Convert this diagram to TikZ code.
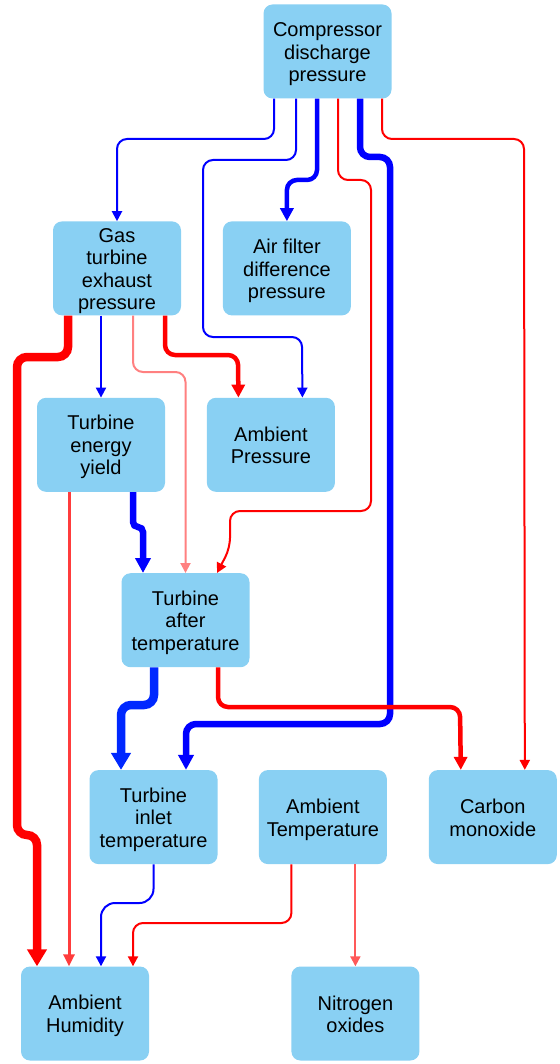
\documentclass[tikz,border=0pt]{standalone}
\usepackage{fontspec}
\setmainfont{Liberation Sans}
\usetikzlibrary{positioning, arrows.meta}
\definecolor{boxblue}{RGB}{137,208,243}
\definecolor{cblue}{RGB}{0,0,255}
\definecolor{cdeep}{RGB}{0,40,255}
\definecolor{cred}{RGB}{255,0,0}
\definecolor{clight}{RGB}{255,128,128}
\definecolor{cmid}{RGB}{255,60,60}
\tikzset{
  var/.style={rectangle, rounded corners=9pt, fill=boxblue, minimum width=128pt,
    minimum height=94pt, inner sep=0pt, align=center,
    font=\fontsize{20}{22.5}\selectfont},
  link/.style={rounded corners=10pt},
  w1/.style={link, line width=2pt, -{Triangle[length=10pt,width=10pt]}},
  w2/.style={link, line width=3pt, -{Triangle[length=12pt,width=11pt]}},
  w3/.style={link, line width=4.5pt, -{Triangle[length=13pt,width=13pt]}},
  w4/.style={link, line width=6.5pt, -{Triangle[length=15pt,width=15pt]}},
  w5/.style={link, line width=8.5pt, -{Triangle[length=17pt,width=19pt]}}
}
\newcommand{\topstrut}{\rule{0pt}{19.5pt}}
\newcommand{\botstrut}{\rule[-4pt]{0pt}{4pt}}

\begin{document}
\begin{tikzpicture}[x=1pt, y=-1pt]
    \useasboundingbox (0,0) rectangle (559,1064);

    \node[var] (cdp) at (327.5,51.5) {\topstrut Compressor\\discharge\\pressure\botstrut};
    \node[var, below = 122.5pt of cdp, xshift=-210.5pt] (gtep) {\topstrut Gas\\turbine\\exhaust\\pressure\botstrut};
    \node[var, right = 41.5pt of gtep] (afdp) {\topstrut Air filter\\difference\\pressure\botstrut};
    \node[var, below = 82pt of gtep, xshift=-16pt] (tey) {\topstrut Turbine\\energy\\yield\botstrut};
    \node[var, right = 41.5pt of tey] (ap) {\topstrut Ambient\\Pressure\botstrut};
    \node[var, below = 81pt of tey, xshift=84.5pt] (tat) {\topstrut Turbine\\after\\temperature\botstrut};
    \node[var, below = 102.5pt of tat, xshift=-32pt] (tit) {\topstrut Turbine\\inlet\\temperature\botstrut};
    \node[var, right = 41pt of tit] (at) {\topstrut Ambient\\Temperature\botstrut};
    \node[var, right = 41.5pt of at] (co) {\topstrut Carbon\\monoxide\botstrut};
    \node[var, below = 102pt of tit, xshift=-68.5pt] (ah) {\topstrut Ambient\\Humidity\botstrut};
    \node[var, below = 102pt of at, xshift=32.5pt] (nox) {\topstrut Nitrogen\\oxides\botstrut};

    % from compressor discharge pressure
    \draw[w1, cblue] ([xshift=-53.5pt]cdp.south) |- (gtep.north |- 0,139) -- (gtep.north);
    \draw[w1, cblue] ([xshift=-31.5pt]cdp.south) |- (203,160) |- (302,337) -- ([xshift=31.5pt]ap.north);
    \draw[w3, cblue] ([xshift=-10.5pt]cdp.south) |- (afdp.north |- 0,180) -- (afdp.north);
    \draw[w1, cred] ([xshift=10.5pt]cdp.south) |- (371,180) |- (230,511) -- (230,548) -- ([xshift=31.5pt]tat.north);
    \draw[w4, cblue] ([xshift=32.5pt]cdp.south) |- (390,157) |- (186,724) -- ([xshift=32.5pt]tit.north);
    \draw[w1, cred] ([xshift=54.5pt]cdp.south) |- (524,139) -- ([xshift=32pt]co.north);

    % from gas turbine exhaust pressure
    \draw[w5, cred] ([xshift=-49pt]gtep.south) |- (17,357) |- (37,835) -- ([xshift=-48pt]ah.north);
    \draw[w1, cblue] ([xshift=-16pt]gtep.south) -- (tey.north);
    \draw[w1, clight] ([xshift=16pt]gtep.south) |- (tat.north |- 0,372) -- (tat.north);
    \draw[w3, cred] ([xshift=48pt]gtep.south) |- (238,355) -- ([xshift=-32.5pt]ap.north);

    % from turbine energy yield
    \draw[w2, cmid] ([xshift=-32pt]tey.south) -- ([xshift=-16pt]ah.north);
    \draw[w4, cblue, rounded corners=5pt] ([xshift=32pt]tey.south) |- (143,527) -- ([xshift=-42.5pt]tat.north);

    % from turbine after temperature
    \draw[w5, cdeep] ([xshift=-31.5pt]tat.south) |- (121,705) -- ([xshift=-32.5pt]tit.north);
    \draw[w3, cred] ([xshift=32.5pt]tat.south) |- (460,707) -- ([xshift=-32pt]co.north);

    % to ambient humidity and nitrogen oxides
    \draw[w1, cblue, rounded corners=14pt] (tit.south) |- (101,903) -- ([xshift=16pt]ah.north);
    \draw[w1, cred] ([xshift=-31.5pt]at.south) |- (133,923) -- ([xshift=48pt]ah.north);
    \draw[w1, cmid!85!white] ([xshift=32.5pt]at.south) -- (nox.north);
\end{tikzpicture}
\end{document}
